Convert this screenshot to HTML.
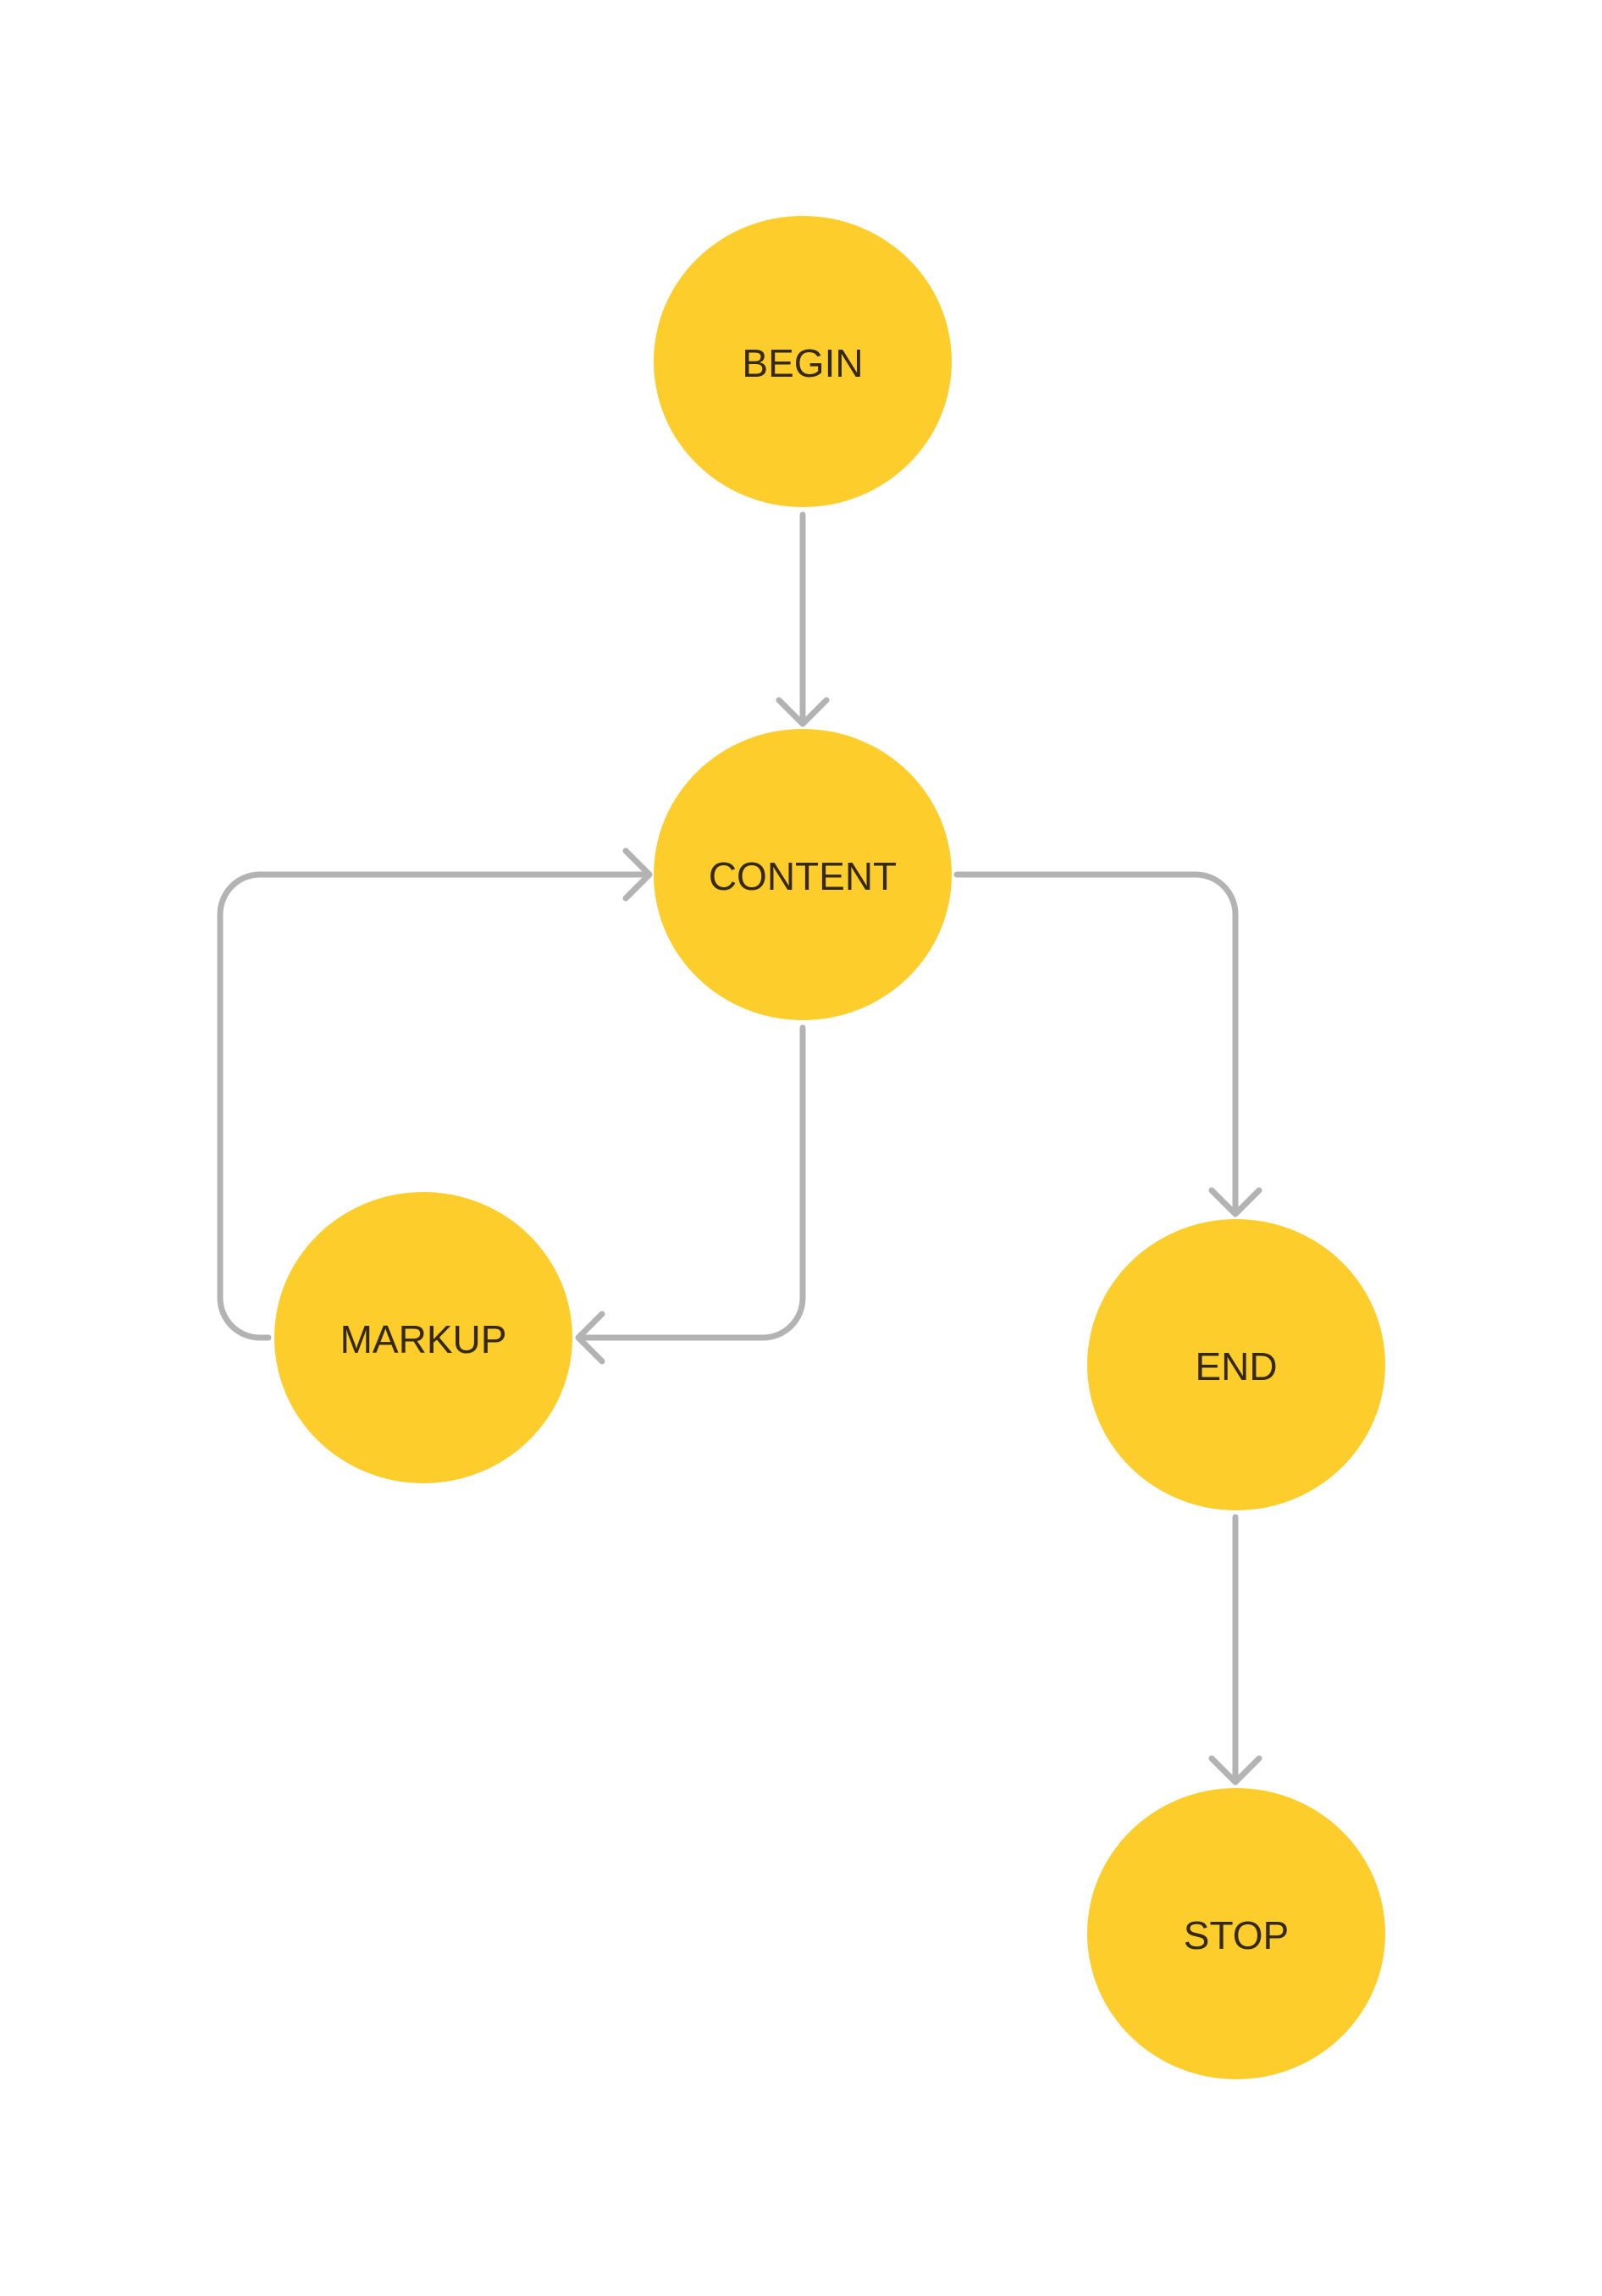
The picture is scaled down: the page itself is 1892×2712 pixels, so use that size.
<!DOCTYPE html>
<html><head><meta charset="utf-8"><style>
html,body{margin:0;padding:0;background:#fff;}
svg{display:block;}
text{font-family:"Liberation Sans",sans-serif;font-size:46px;fill:#35290a;text-anchor:middle;dominant-baseline:central;}
</style></head><body>
<svg width="1892" height="2712" viewBox="0 0 1892 2712" xmlns="http://www.w3.org/2000/svg">
<g fill="#fdcd2c">
<ellipse cx="948" cy="427" rx="176" ry="172"/>
<ellipse cx="948" cy="1033" rx="176" ry="172"/>
<ellipse cx="500" cy="1580" rx="176" ry="172"/>
<ellipse cx="1460" cy="1612" rx="176" ry="172"/>
<ellipse cx="1460" cy="2284" rx="176" ry="172"/>
</g>
<g fill="none" stroke="#b3b3b3" stroke-width="7" stroke-linecap="round" stroke-linejoin="round">
<path d="M948 608 V853"/>
<path d="M920 827 L948 855 L976 827"/>
<path d="M317 1580 H307 A47 47 0 0 1 260 1533 V1080 A47 47 0 0 1 307 1033 H765"/>
<path d="M739 1005 L767 1033 L739 1061"/>
<path d="M1130 1033 H1412 A47 47 0 0 1 1459 1080 V1432"/>
<path d="M1431 1406 L1459 1434 L1487 1406"/>
<path d="M948 1214 V1533 A47 47 0 0 1 901 1580 H685"/>
<path d="M711 1552 L683 1580 L711 1608"/>
<path d="M1459 1792 V2103"/>
<path d="M1431 2077 L1459 2105 L1487 2077"/>
</g>
<text x="948" y="429">BEGIN</text>
<text x="948" y="1035">CONTENT</text>
<text x="500" y="1582">MARKUP</text>
<text x="1460" y="1614">END</text>
<text x="1460" y="2286">STOP</text>
</svg>
</body></html>
